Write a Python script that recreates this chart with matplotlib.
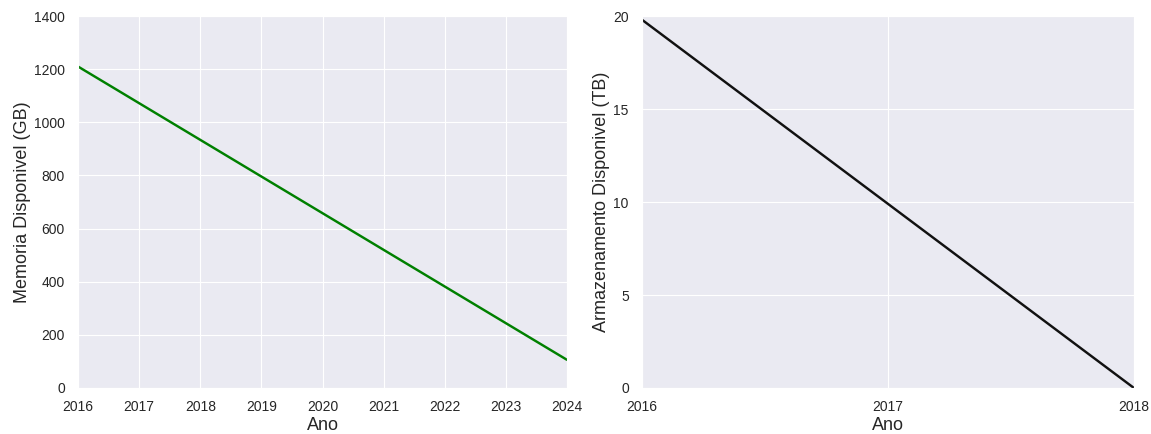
import matplotlib
matplotlib.use('Agg')
import matplotlib.pyplot as plt
import seaborn as sns

anos_mem = [2016, 2017, 2018, 2019, 2020, 2021, 2022, 2023, 2024]
memoria_gb = [1210, 1072, 934, 796, 658, 520, 382, 244, 106]

anos_arm = [2016, 2017, 2018]
armazenamento_tb = [19.8, 9.9, 0.0]

sns.set_style('darkgrid', {'xtick.major.size': 0, 'ytick.major.size': 0})
plt.rcParams['font.family'] = ['Liberation Sans', 'DejaVu Sans']
plt.rcParams['xtick.labelsize'] = 10
plt.rcParams['ytick.labelsize'] = 10
plt.rcParams['axes.labelsize'] = 13
plt.rcParams['axes.labelcolor'] = '#262626'
plt.rcParams['xtick.color'] = '#262626'
plt.rcParams['ytick.color'] = '#262626'

fig = plt.figure(figsize=(11.51, 4.34), dpi=100)
ax1 = fig.add_axes([0.0678, 0.106, 0.4248, 0.857])
ax2 = fig.add_axes([0.5578, 0.106, 0.4274, 0.857])

ax1.plot(anos_mem, memoria_gb, color=(0, 0.5, 0), linewidth=1.75)
ax1.set_xlim(2016, 2024)
ax1.set_ylim(0, 1400)
ax1.set_xticks(anos_mem)
ax1.set_xlabel('Ano', labelpad=2)
ax1.set_ylabel('Memoria Disponivel (GB)', labelpad=2)

ax2.plot(anos_arm, armazenamento_tb, color='#111111', linewidth=1.75)
ax2.set_xlim(2016, 2018)
ax2.set_ylim(0, 20)
ax2.set_xticks(anos_arm)
ax2.set_yticks([0, 5, 10, 15, 20])
ax2.set_xlabel('Ano', labelpad=2)
ax2.set_ylabel('Armazenamento Disponivel (TB)', labelpad=2)

for ax in (ax1, ax2):
    ax.tick_params(axis='x', pad=5)
    ax.tick_params(axis='y', pad=6)

fig.savefig('out.png', dpi=100)
